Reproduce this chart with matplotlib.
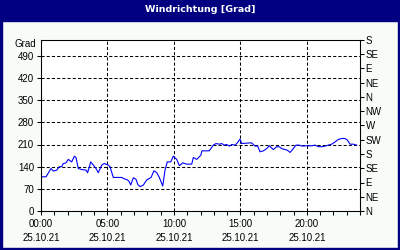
import matplotlib
matplotlib.use('Agg')
import matplotlib.pyplot as plt
from matplotlib.patches import Rectangle

# Wind direction samples (hours since 00:00, degrees)
hours = [0.0, 0.38, 0.75, 0.93, 1.18, 1.38, 1.56, 1.68, 1.88, 2.05, 2.31, 2.51, 2.63,
         2.81, 3.06, 3.39, 3.51, 3.74, 3.94, 4.14, 4.31, 4.57, 4.76, 5.06, 5.19, 5.44,
         6.07, 6.19, 6.52, 6.64, 6.75, 6.95, 7.15, 7.28, 7.45, 7.70, 7.95, 8.28, 8.50,
         8.71, 8.90, 9.16, 9.33, 9.50, 9.76, 9.95, 10.21, 10.41, 10.66, 10.96, 11.34,
         11.46, 11.72, 12.02, 12.11, 12.66, 12.96, 13.17, 13.42, 13.60, 13.77, 13.97,
         14.17, 14.35, 14.60, 14.77, 14.97, 15.10, 15.67, 15.85, 16.10, 16.30, 16.48,
         16.73, 16.98, 17.18, 17.48, 17.73, 17.93, 18.11, 18.36, 18.53, 18.74, 18.98,
         19.19, 19.44, 19.62, 19.99, 20.37, 20.62, 20.87, 21.12, 21.37, 21.62, 21.87,
         22.12, 22.37, 22.63, 22.87, 23.05, 23.25, 23.50, 23.75]
direction = [108, 108, 134, 126, 129, 140, 140, 150, 152, 163, 155, 173, 169,
             134, 131, 129, 121, 155, 145, 134, 121, 145, 150, 145, 140, 106,
             106, 103, 98, 92, 82, 105, 100, 84, 77, 82, 98, 106, 127,
             121, 106, 79, 129, 155, 155, 173, 163, 143, 152, 148, 148,
             169, 163, 176, 190, 190, 208, 213, 211, 213, 208, 210,
             205, 210, 208, 215, 227, 213, 215, 215, 205, 205, 187,
             190, 197, 206, 194, 203, 203, 197, 194, 192, 185, 197,
             208, 208, 205, 206, 206, 208, 203, 203, 205, 208, 211,
             218, 226, 229, 229, 224, 211, 211, 208]

left_ticks = [0, 70, 140, 210, 280, 350, 420, 490]
right_ticks = [0, 45, 90, 135, 180, 225, 270, 315, 360, 405, 450, 495, 540]
right_labels = ['N', 'NE', 'E', 'SE', 'S', 'SW', 'W', 'NW', 'N', 'NE', 'E', 'SE', 'S']
x_ticks = [0, 5, 10, 15, 20]
x_labels = ['00:00\n25.10.21', '05:00\n25.10.21', '10:00\n25.10.21',
            '15:00\n25.10.21', '20:00\n25.10.21']

plt.rcParams['font.family'] = ['Liberation Sans', 'DejaVu Sans']
plt.rcParams['font.size'] = 7

fig = plt.figure(figsize=(4, 2.5), dpi=100, facecolor='#F8FCF8')

# title bar and window border
navy = '#000080'
fig.patches.append(Rectangle((0, 0.916), 1, 0.084, transform=fig.transFigure, color=navy))
fig.patches.append(Rectangle((0, 0), 0.005, 1, transform=fig.transFigure, color=navy))
fig.patches.append(Rectangle((0.995, 0), 0.005, 1, transform=fig.transFigure, color=navy))
fig.patches.append(Rectangle((0, 0), 1, 0.01, transform=fig.transFigure, color=navy))
fig.text(0.5, 1 - 10 / 250, 'Windrichtung [Grad]', color='white', weight='bold',
         ha='center', va='center', fontsize=6.8, family='DejaVu Sans')

ax = fig.add_axes([0.1025, 0.156, 0.7975, 0.684])
ax.set_facecolor('white')
ax.plot(hours, direction, color='#0000FF', lw=0.8)

ax.set_xlim(0, 24)
ax.set_ylim(0, 540)
ax.set_yticks(left_ticks)
ax.set_xticks(x_ticks)
ax.set_xticklabels(x_labels, linespacing=1.5)
ax.set_xticks(range(0, 25), minor=True)
ax.grid(True, which='major', color='black', linestyle=(0, (3, 2)), linewidth=0.75)
ax.tick_params(which='both', direction='out', length=3, width=0.75, colors='black', pad=2)
ax.tick_params(axis='x', pad=3)
for s in ax.spines.values():
    s.set_linewidth(0.75)

ax.text(-0.015, 0.975, 'Grad', transform=ax.transAxes, ha='right', va='center')

ax2 = ax.twinx()
ax2.set_ylim(0, 540)
ax2.set_yticks(right_ticks)
ax2.set_yticklabels(right_labels)
ax2.tick_params(direction='out', length=3, width=0.75, pad=1)
for s in ax2.spines.values():
    s.set_linewidth(0.75)

fig.savefig('out.png', dpi=100, facecolor=fig.get_facecolor())
